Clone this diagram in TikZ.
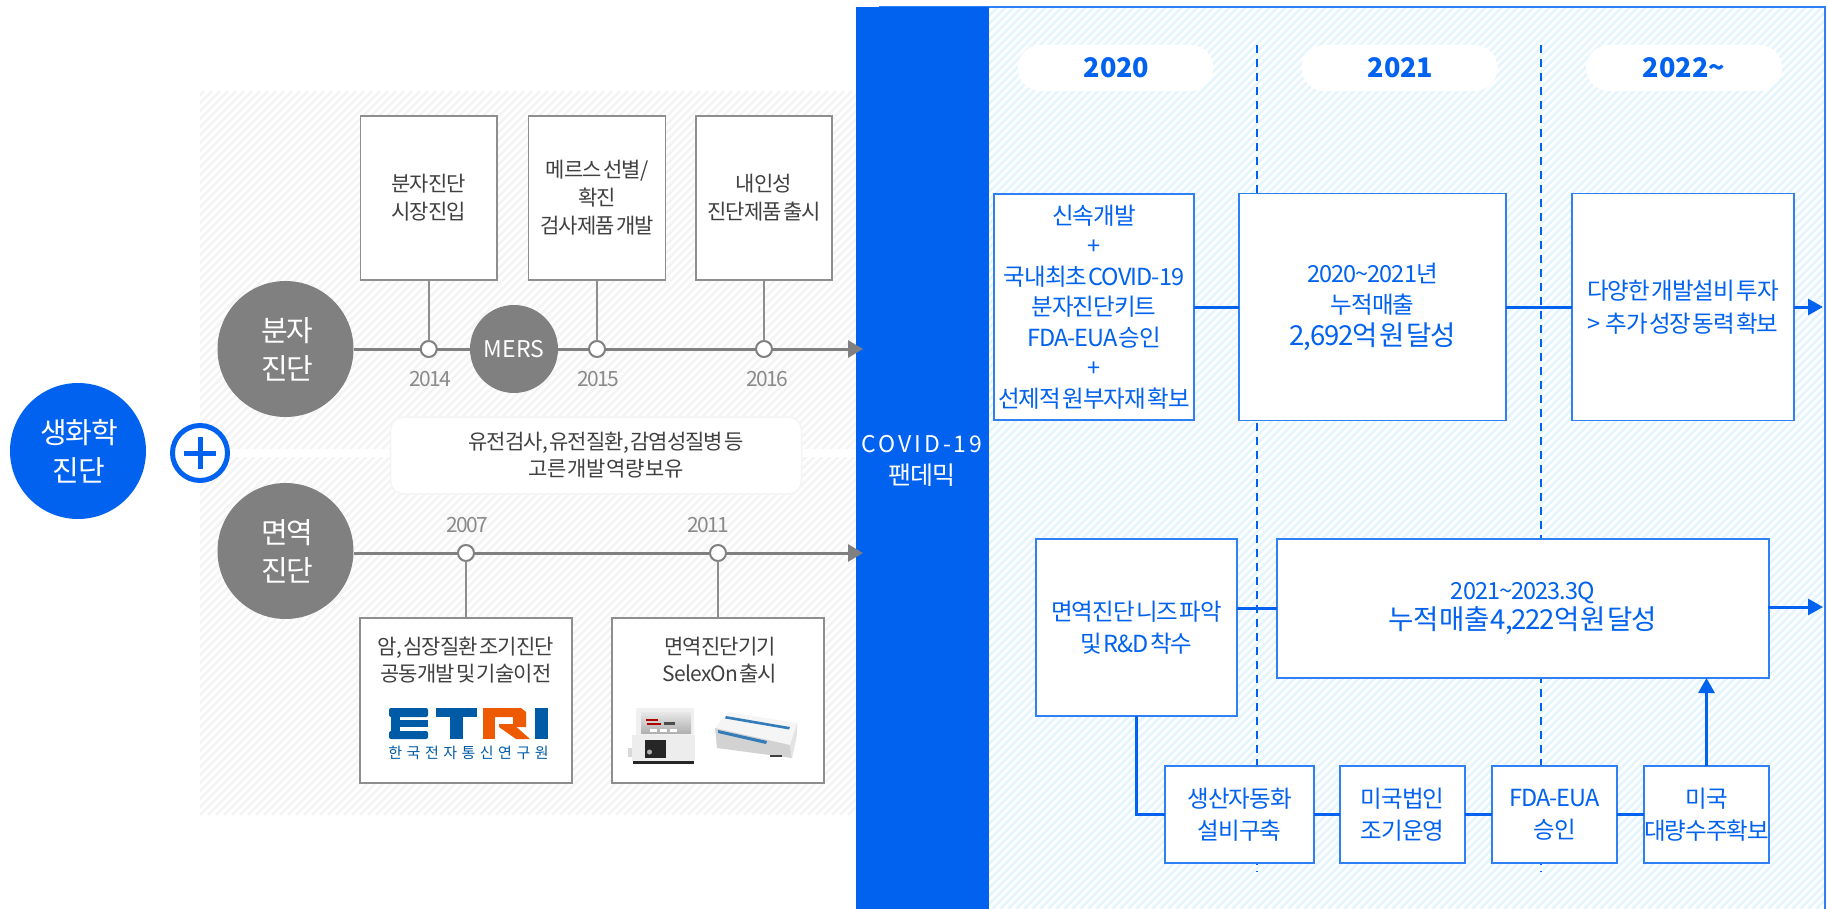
\documentclass[tikz,border=0pt]{standalone}
\usepackage{fontspec}
\usetikzlibrary{arrows.meta,calc,shapes.geometric}
\setmainfont[LetterSpace=-4,WordSpace=0.3]{Noto Sans CJK KR}
\newfontfamily\krwide[LetterSpace=13]{Noto Sans CJK KR}
\newfontfamily\krlogo[LetterSpace=30]{Noto Sans CJK KR}
\newfontfamily\krplain{Noto Sans CJK KR}
\newfontfamily\krtight[LetterSpace=-8]{Noto Sans CJK KR}
\newcommand{\fs}[2]{\fontsize{#1}{#2}\selectfont}
\definecolor{brand}{HTML}{0062EE}
\definecolor{edgeblue}{HTML}{2F80F2}
\definecolor{stripeblue}{HTML}{E5F5FD}
\definecolor{stripegray}{HTML}{F4F4F4}
\definecolor{midgray}{HTML}{808080}
\definecolor{edgegray}{HTML}{8E8E8E}
\definecolor{inkgray}{HTML}{404040}
\definecolor{yeargray}{HTML}{8A8A8A}
\definecolor{logoblue}{HTML}{005BA6}
\definecolor{logoorange}{HTML}{EE5A04}
\tikzset{
  gbox/.style={draw=edgegray,fill=white,line width=1.6pt,inner sep=0pt,outer sep=0pt,align=center,text=inkgray,font=\fs{21}{28}},
  bbox/.style={draw=edgeblue,fill=white,line width=1.8pt,inner sep=0pt,outer sep=0pt,align=center,text=brand,font=\fs{23.5}{30.5}},
  disc/.style={circle,fill=midgray,inner sep=0pt,outer sep=0pt,minimum size=136pt,align=center,text=white,font=\fs{29}{38}},
  tick/.style={circle,draw=midgray,fill=white,line width=2pt,inner sep=0pt,outer sep=0pt,minimum size=16pt},
  tl/.style={draw=midgray,line width=3pt},
  tlarrow/.style={tl,-{Triangle[length=15pt,width=17pt]}},
  stem/.style={draw=edgegray,line width=1.6pt},
  flow/.style={draw=brand,line width=3pt},
  flowarrow/.style={flow,-{Triangle[length=15pt,width=16pt]}},
  year/.style={text=yeargray,font=\krtight\fs{21}{24}},
  pill/.style={rounded corners=23pt,fill=white,inner sep=0pt,outer sep=0pt,minimum width=196pt,minimum height=46pt,text=brand,font=\krplain\fs{27}{30}\bfseries}
}
\begin{document}
\begin{tikzpicture}[x=1pt,y=-1pt]
\useasboundingbox (0,0) rectangle (1828,909);
% hatched panels
\begin{scope}
  \clip (200,91) rectangle (857,815);
  \fill[white] (200,91) rectangle (857,815);
  \foreach \i in {-600,-592,...,900} \draw[stripegray,line width=2.8pt] (\i,815) -- ++(724,-724);
\end{scope}
\fill[white] (230,449) rectangle (857,457);
\begin{scope}
  \clip (989,7) rectangle (1825,909);
  \foreach \i in {80,88,...,1830} \draw[stripeblue,line width=2.8pt] (\i,909) -- ++(902,-902);
\end{scope}
\draw[edgeblue,line width=2pt] (879,7) -- (1825,7) -- (1825,909);
\fill[brand] (856,7) rectangle (989,909);
% dashed year separators
\coordinate (sepAtop) at (1257,45);
\coordinate (sepAend) at (1257,872);
\coordinate (sepBtop) at (1541,45);
\coordinate (sepBend) at (1541,872);
\draw[brand,line width=1.4pt,dash pattern=on 8pt off 6pt] (sepAtop) -- (sepAend);
\draw[brand,line width=1.4pt,dash pattern=on 8pt off 6pt] (sepBtop) -- (sepBend);
% left discs
\node[disc,fill=brand] (bio) at (78,451) {\hspace*{2pt}생화학\\\hspace*{2pt}진단};
\node[circle,draw=brand,fill=white,line width=5pt,minimum size=55pt,inner sep=0pt,outer sep=0pt] (plusc) at (200,453) {};
\draw[brand,line width=5pt] ($(plusc)+(-16,0)$) -- ($(plusc)+(16,0)$);
\draw[brand,line width=5pt] ($(plusc)+(0,-16)$) -- ($(plusc)+(0,16)$);
\node[disc] (mol) at (285.5,349) {\hspace*{4pt}분자\\\hspace*{4pt}진단};
\node[disc] (imm) at (285.5,551) {\hspace*{4pt}면역\\\hspace*{4pt}진단};
\node[disc,minimum size=88pt,font=\krplain\fs{23}{26}] (mers) at (514,349) {MERS};
% top boxes
\node[gbox,minimum width=136.5pt,minimum height=164pt] (box1) at (428.75,198) {분자진단\\시장진입};
\node[gbox,minimum width=137pt,minimum height=164pt] (box2) at (597,198) {메르스 선별/\\확진\\검사제품 개발};
\node[gbox,minimum width=136pt,minimum height=164pt] (box3) at (764,198) {내인성\\진단제품 출시};
\node[tick] (n14) at (428.75,349) {};
\node[tick] (n15) at (597,349) {};
\node[tick] (n16) at (764,349) {};
\coordinate (endA) at (863,349);
\draw[tl] (mol) -- (n14);
\draw[tl] (n14) -- (mers);
\draw[tl] (mers) -- (n15);
\draw[tl] (n15) -- (n16);
\draw[tlarrow] (n16) -- (endA);
\draw[stem] (box1.south) -- (n14.north);
\draw[stem] (box2.south) -- (n15.north);
\draw[stem] (box3.south) -- (n16.north);
\node[year] (y14) at (430,379) {2014};
\node[year] (y15) at (598,379) {2015};
\node[year] (y16) at (767,379) {2016};
% note
\node[rounded corners=13pt,draw=stripegray,line width=1.5pt,fill=white,minimum width=411pt,minimum height=77pt,inner sep=0pt,outer sep=0pt] (note) at (596,455.5) {};
\node[align=center,text=inkgray,font=\fs{21}{27}] (notetxt) at (606,455.5) {유전검사, 유전질환, 감염성질병 등\\고른 개발 역량 보유};
% lower timeline
\node[gbox,minimum width=212pt,minimum height=165pt] (boxa) at (466,700.5) {};
\node[gbox,minimum width=212pt,minimum height=165pt] (boxb) at (718,700.5) {};
\node[text=inkgray,align=center,font=\fs{21}{27}] (txa) at (466,660.5) {암, 심장질환 조기진단\\공동개발 및 기술이전};
\node[text=inkgray,align=center,font=\fs{21}{27}] (txb) at (720,660.5) {면역진단기기\\SelexOn 출시};
\node[tick] (n07) at (466,553) {};
\node[tick] (n11) at (718,553) {};
\coordinate (endB) at (863,553);
\draw[tl] (imm.east |- n07) -- (n07);
\draw[tl] (n07) -- (n11);
\draw[tlarrow] (n11) -- (endB);
\draw[stem] (boxa.north) -- (n07.south);
\draw[stem] (boxb.north) -- (n11.south);
\node[year] (y07) at (467,525) {2007};
\node[year] (y11) at (708,525) {2011};
% ETRI logo
\fill[logoblue,rounded corners=2pt] (389,708) rectangle (428,717);
\fill[logoblue,rounded corners=2pt] (389,731) rectangle (428,739);
\fill[logoblue] (391,710) rectangle (400,737);
\fill[logoblue] (391,720) rectangle (428,727);
\fill[logoblue] (436,708) rectangle (477,717);
\fill[logoblue] (450,708) rectangle (463,739);
\fill[logoorange] (483,708) rectangle (495,739);
\fill[logoorange] (483,708) -- (521,708) -- (526,712) -- (526,727) -- (513,727) -- (513,717) -- (483,717) -- cycle;
\fill[logoorange] (499,724) -- (513,724) -- (530,739) -- (516,739) -- (499,727) -- cycle;
\fill[logoblue] (535,708) rectangle (548,739);
\node[text=logoblue,inner sep=0pt,font=\krlogo\fs{15}{16}] (logotxt) at (468.5,753) {한국전자통신연구원};
% device
\fill[gray!12,rounded corners=2pt] (636,708) rectangle (694,736);
\shade[top color=gray!18,bottom color=gray!62] (641,712) rectangle (691,733);
\fill[red!70!black] (646,719) rectangle (658,721);
\fill[red!70!black] (647,723) rectangle (661,725);
\fill[gray!60!black] (664,722) rectangle (675,725);
\fill[white] (650,729) rectangle (657,731.5);
\fill[white] (660,729) rectangle (667,731.5);
\fill[white] (670,729) rectangle (677,731.5);
\fill[gray!14] (632,735) rectangle (695,761);
\fill[gray!30] (628,748) rectangle (632,757);
\fill[black!85] (645,740) rectangle (666,758);
\fill[gray!60] (649.5,752) circle (2.5pt);
\fill[black!85] (633,761) rectangle (694,764);
% kit
\fill[gray!8] (728,712) -- (797,723) -- (790,745) -- (715,728) -- cycle;
\fill[gray!35] (715,728) -- (790,745) -- (792,758) -- (717,748) -- cycle;
\fill[gray!22] (790,745) -- (797,723) -- (797,735) -- (792,758) -- cycle;
\fill[logoblue!80] (726,716) -- (790,727) -- (789,729.5) -- (725,718.5) -- cycle;
\fill[logoblue!80] (718,730) -- (767,741) -- (766,744) -- (718,733) -- cycle;
\fill[black!75] (770,755) rectangle (782,757);
% right column
\node[pill] (p20) at (1115.5,68) {\hspace*{2pt}2020};
\node[pill] (p21) at (1399.5,68) {\hspace*{2pt}2021};
\node[pill] (p22) at (1684,68) {2022\textasciitilde};
\node[bbox,minimum width=200pt,minimum height=226pt] (b20) at (1094,307) {신속개발\\+\\국내최초 COVID-19\\분자진단키트\\FDA-EUA 승인\\+\\선제적 원부자재 확보};
\node[bbox,minimum width=267pt,minimum height=227pt] (b21) at (1372.5,307) {2020\textasciitilde 2021년\\누적매출\\[2pt]{\fs{27.5}{34}2,692억 원 달성}};
\node[bbox,minimum width=222pt,minimum height=227pt,font=\fs{23.5}{33}] (b22) at (1683,307) {다양한 개발설비 투자\\>\hspace{5pt}추가 성장 동력 확보};
\coordinate (endC) at (1823,307);
\draw[flow] (b20) -- (b21);
\draw[flow] (b21) -- (b22);
\draw[flowarrow] (b22) -- (endC);
\node[bbox,minimum width=201pt,minimum height=177pt,font=\fs{23.5}{32}] (need) at (1136.5,627.5) {면역진단 니즈 파악\\및 R\&D 착수};
\node[bbox,minimum width=492pt,minimum height=139pt] (big) at (1523,608.5) {2021\textasciitilde 2023.3Q\\{\fs{27.5}{32}누적 매출 4,222억 원 달성}};
\node[bbox,minimum width=149pt,minimum height=97pt,font=\fs{23.5}{32}] (auto) at (1239.5,814.5) {생산자동화\\설비구축};
\node[bbox,minimum width=125pt,minimum height=97pt,font=\fs{23.5}{32}] (corp) at (1402.5,814.5) {미국법인\\조기운영};
\node[bbox,minimum width=125pt,minimum height=97pt,font=\fs{23.5}{32}] (fda) at (1554.5,814.5) {FDA-EUA\\승인};
\node[bbox,minimum width=125pt,minimum height=97pt,font=\fs{23.5}{32}] (mass) at (1706.5,814.5) {미국\\대량수주확보};
\coordinate (endD) at (1823,607);
\draw[flow] (need.east |- big.west) -- (big.west);
\draw[flowarrow] (big.east) -- (big.east |- endD) -- (endD);
\draw[flow] (need.south) ++(-0.5,0) |- (auto.west);
\draw[flow] (auto) -- (corp);
\draw[flow] (corp) -- (fda);
\draw[flow] (fda) -- (mass);
\draw[flowarrow] (mass.north) -- (mass.north |- big.south);
% band label
\node[text=white,align=center,inner sep=0pt,font=\fs{25}{32}] (covid) at (922,461) {{\krwide\fs{23}{32}COVID-19}\\팬데믹};
\end{tikzpicture}
\end{document}
